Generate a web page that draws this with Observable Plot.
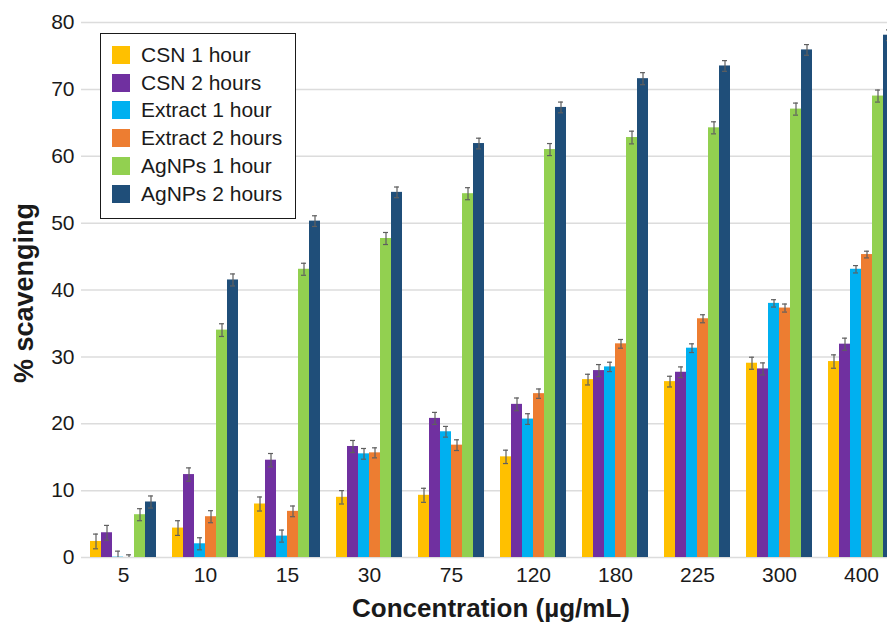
<!DOCTYPE html>
<html><head><meta charset="utf-8">
<script src="https://cdn.jsdelivr.net/npm/d3@7"></script>
<script src="https://cdn.jsdelivr.net/npm/@observablehq/plot@0.6"></script>
<style>
html,body{margin:0;padding:0;background:#fff;overflow:hidden;width:887px;height:624px}
#wrap{position:relative;width:887px;height:624px;overflow:hidden;font-family:Arial,"Liberation Sans",sans-serif;color:#1a1a1a;background:#fff}
#grid,#chart{position:absolute;left:0;top:0;width:904px;height:624px}
#grid svg,#chart svg{max-width:none !important;width:904px;height:624px}
.legend{position:absolute;left:100px;top:33px;width:194px;height:177px;border:1px solid #1a1a1a;background:#fff;padding-top:7px;box-sizing:content-box}
.legend .row{display:flex;align-items:center;height:27.8px;font-size:21px;white-space:nowrap}
.legend .sw{width:18px;height:18px;margin-left:11px;margin-right:11px;flex:none}
.ytitle{position:absolute;left:24px;top:293px;transform:translate(-50%,-50%) rotate(-90deg);font-size:27px;font-weight:bold;white-space:nowrap}
.xtitle{position:absolute;left:491px;top:608px;transform:translate(-50%,-50%);font-size:26px;font-weight:bold;white-space:nowrap}
</style></head>
<body><div id="wrap"><div id="grid"></div><div id="chart"></div></div>
<script>
const concentrations = ["5","10","15","30","75","120","180","225","300","400"];
const seriesNames = ["CSN 1 hour","CSN 2 hours","Extract 1 hour","Extract 2 hours","AgNPs 1 hour","AgNPs 2 hours"];
const seriesColors = ["#FFC000","#7030A0","#00B0F0","#ED7D31","#92D050","#1F4E79"];
const yTicks = [0,10,20,30,40,50,60,70,80];

const csn1 = [2.4, 4.4, 8.0, 9.0, 9.3, 15.05, 26.6, 26.3, 29.05, 29.3];
const csn1Err = [1.1, 1.1, 1.05, 1.0, 1.05, 1.0, 0.8, 0.8, 0.9, 1.0];
const csn2 = [3.7, 12.4, 14.55, 16.6, 20.8, 22.9, 27.95, 27.7, 28.2, 31.9];
const csn2Err = [1.1, 1.0, 1.0, 0.9, 0.9, 0.95, 0.9, 0.8, 0.9, 0.9];
const extract1 = [0.05, 2.05, 3.2, 15.5, 18.8, 20.7, 28.5, 31.3, 38.0, 43.1];
const extract1Err = [0.9, 0.9, 0.9, 0.8, 0.8, 0.8, 0.7, 0.65, 0.55, 0.55];
const extract2 = [0.0, 6.1, 6.9, 15.65, 16.8, 24.5, 31.95, 35.7, 37.3, 45.3];
const extract2Err = [0.4, 0.9, 0.8, 0.75, 0.8, 0.7, 0.65, 0.6, 0.6, 0.5];
const agnps1 = [6.4, 34.0, 43.1, 47.7, 54.4, 61.0, 62.8, 64.25, 67.05, 69.0];
const agnps1Err = [0.9, 0.95, 0.9, 0.9, 0.9, 0.9, 0.95, 0.9, 0.9, 0.9];
const agnps2 = [8.3, 41.5, 50.3, 54.6, 61.9, 67.3, 71.6, 73.5, 75.9, 78.1];
const agnps2Err = [0.9, 0.9, 0.8, 0.8, 0.8, 0.8, 0.9, 0.8, 0.8, 0.8];

const seriesValues = [csn1, csn2, extract1, extract2, agnps1, agnps2];
const seriesErrors = [csn1Err, csn2Err, extract1Err, extract2Err, agnps1Err, agnps2Err];

const rows = [];
concentrations.forEach((c, i) => {
  seriesNames.forEach((s, j) => {
    const v = seriesValues[j][i], e = seriesErrors[j][i];
    rows.push({conc: c, series: s, value: v, lo: Math.max(0, v - e), hi: v + e, clipped: v - e < 0});
  });
});

const W = 904, H = 624;
const M = {marginLeft: 81, marginRight: 2, marginTop: 22, marginBottom: 67};
const font = "Arial, 'Liberation Sans', sans-serif";

// background: grid lines and y axis across the whole frame
const grid = Plot.plot({
  width: W, height: H, ...M,
  style: {fontFamily: font, fontSize: "21px", color: "#1a1a1a", background: "#fff", overflow: "visible", maxWidth: "none"},
  y: {domain: [0, 80], label: null},
  marks: [
    Plot.ruleY(yTicks, {stroke: "#dcdcdc", strokeWidth: 1.5}),
    Plot.axisY(yTicks, {tickSize: 0, tickPadding: 7, fontSize: 21, label: null, fill: "#1a1a1a"})
  ]
});
document.getElementById("grid").appendChild(grid);

const errColor = "#5f5f5f";
const plot = Plot.plot({
  width: W, height: H, ...M,
  style: {fontFamily: font, fontSize: "21px", color: "#1a1a1a", background: "transparent", overflow: "visible", maxWidth: "none"},
  fx: {domain: concentrations, paddingInner: 0.2, paddingOuter: 0.1, label: null, axis: null},
  x: {domain: seriesNames, padding: 0, axis: null},
  y: {domain: [0, 80], label: null, axis: null},
  color: {domain: seriesNames, range: seriesColors},
  marks: [
    Plot.barY(rows, {fx: "conc", x: "series", y: "value", fill: "series"}),
    Plot.ruleX(rows, {fx: "conc", x: "series", y1: "lo", y2: "hi", stroke: errColor, strokeWidth: 1.2}),
    Plot.tickY(rows, {fx: "conc", x: "series", y: "hi", stroke: errColor, strokeWidth: 1.2, insetLeft: 3, insetRight: 3}),
    Plot.tickY(rows.filter(d => !d.clipped), {fx: "conc", x: "series", y: "lo", stroke: errColor, strokeWidth: 1.2, insetLeft: 3, insetRight: 3}),
    Plot.axisFx({anchor: "bottom", tickSize: 0, tickPadding: 10, fontSize: 21, fill: "#1a1a1a", label: null})
  ]
});
document.getElementById("chart").appendChild(plot);

const wrap = d3.select("#wrap");
const legend = wrap.append("div").attr("class", "legend");
seriesNames.forEach((s, j) => {
  const r = legend.append("div").attr("class", "row");
  r.append("div").attr("class", "sw").style("background", seriesColors[j]);
  r.append("span").text(s);
});
wrap.append("div").attr("class", "ytitle").text("% scavenging");
wrap.append("div").attr("class", "xtitle").text("Concentration (µg/mL)");
</script>
</body></html>
